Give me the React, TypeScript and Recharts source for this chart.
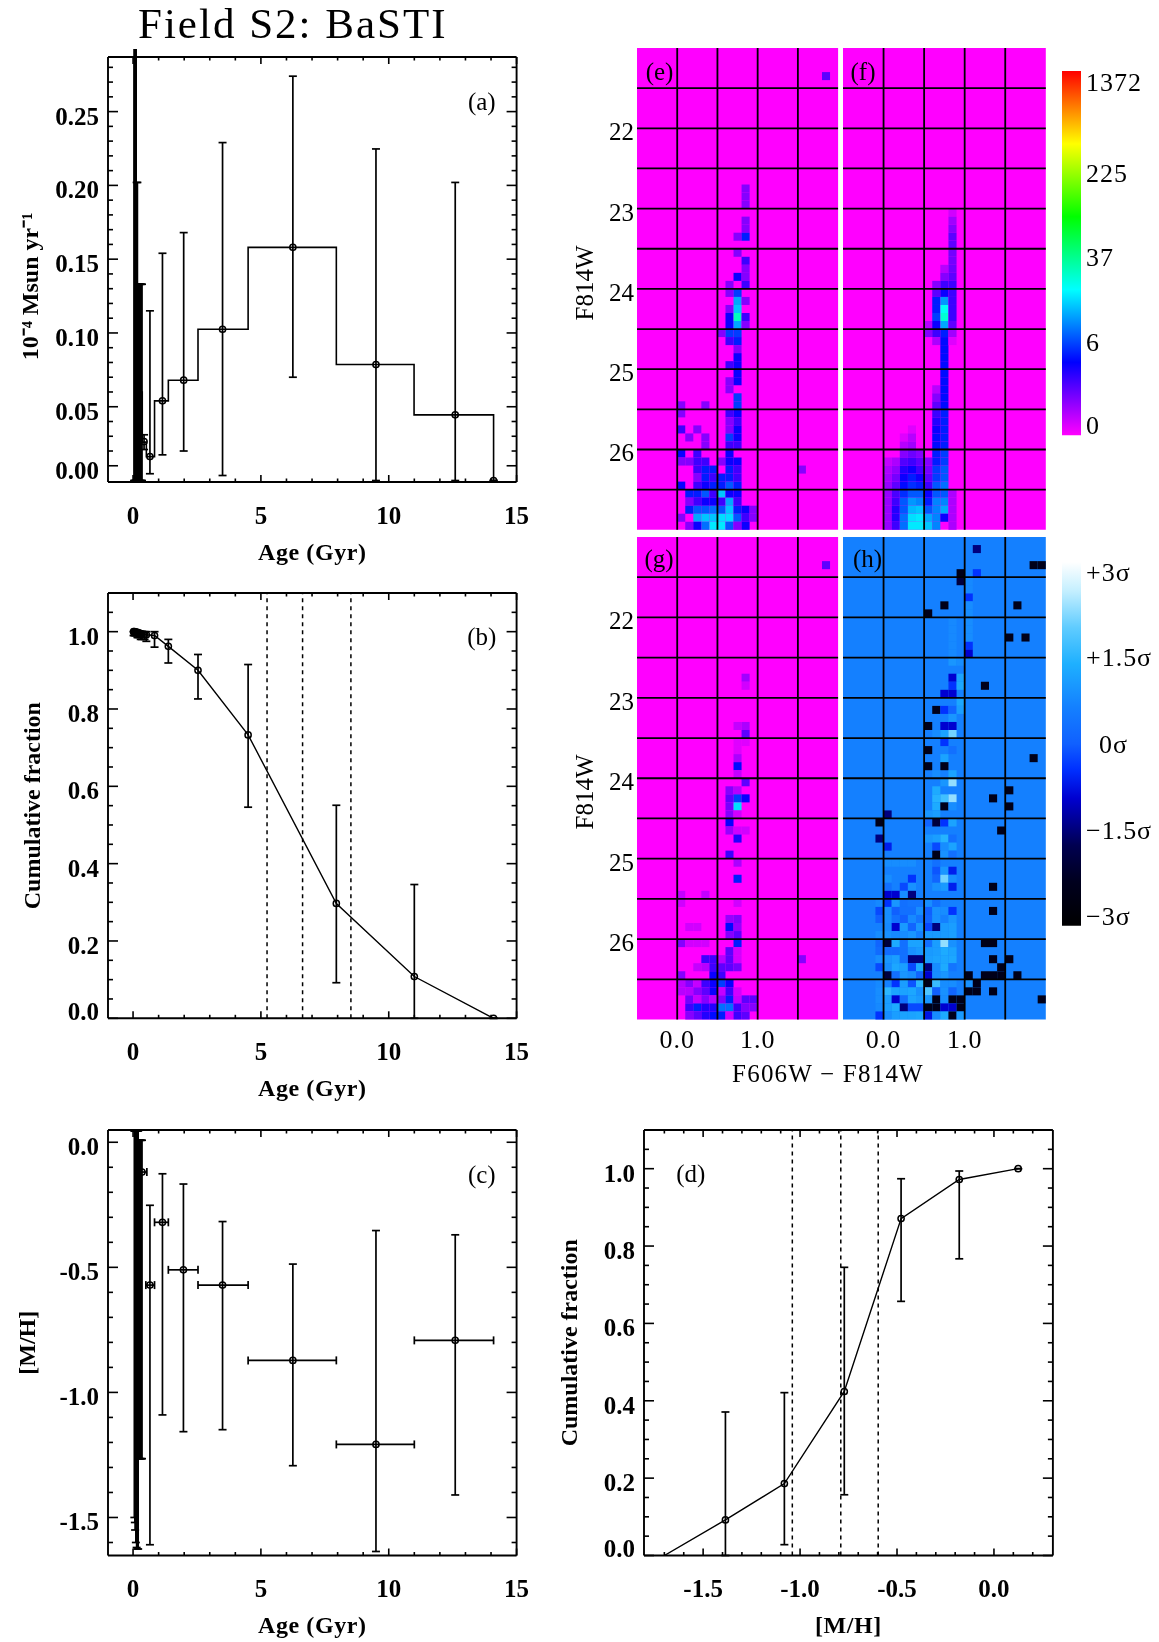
import React from "react";
import {
  ComposedChart,
  Line,
  Scatter,
  ErrorBar,
  XAxis,
  YAxis,
  ReferenceArea,
  ReferenceLine,
} from "recharts";

const serif = '"Liberation Serif", serif';

// --- panel (a): star formation history
const stepAges = [0.05, 0.05, 0.12, 0.2, 0.36, 0.52, 0.84, 1.38, 2.54, 4.5, 7.95, 10.99, 14.1];
const stepRates = [0, 0.3, 0.1, 0.06, 0.026, 0.0162, 0.054, 0.068, 0.1025, 0.158, 0.0786, 0.0445, 0];
const sfhAges = [0.04, 0.07, 0.1, 0.12, 0.14, 0.17, 0.2, 0.23, 0.26, 0.29, 0.32, 0.35, 0.43, 0.66, 1.15, 1.98, 3.5, 6.25, 9.5, 12.6, 14.1];
const sfhRates = [0.12, 0.11, 0.1, 0.1, 0.09, 0.09, 0.07, 0.05, 0.06, 0.04, 0.03, 0.03, 0.0264, 0.0162, 0.054, 0.068, 0.1025, 0.158, 0.0786, 0.0445, 0];
const sfhLow = [0, 0, 0, 0, 0, 0, 0, 0, 0, 0, 0, 0, 0.021, 0.0046, 0.0174, 0.02, 0.0034, 0.07, 0, 0, 0];
const sfhHigh = [0.35, 0.35, 0.35, 0.35, 0.202, 0.202, 0.133, 0.133, 0.133, 0.133, 0.133, 0.133, 0.031, 0.115, 0.154, 0.168, 0.229, 0.274, 0.2247, 0.202, 0];

// --- panel (b): cumulative age
const cumAges = [0.02, 0.05, 0.08, 0.11, 0.14, 0.17, 0.2, 0.25, 0.3, 0.35, 0.45, 0.52, 0.84, 1.38, 2.54, 4.5, 7.95, 11, 14.1];
const cumValues = [1, 1, 0.999, 0.999, 0.998, 0.998, 0.997, 0.996, 0.995, 0.994, 0.993, 0.992, 0.99, 0.962, 0.9, 0.733, 0.297, 0.108, 0];
const cumLow = [0.99, 0.99, 0.99, 0.99, 0.99, 0.985, 0.985, 0.985, 0.98, 0.98, 0.98, 0.975, 0.96, 0.919, 0.826, 0.546, 0.092, 0, 0];
const cumHigh = [1, 1, 1, 1, 1, 1, 1, 1, 1, 1, 1, 1, 1, 0.98, 0.941, 0.915, 0.551, 0.346, 0];
const cumAgeQuartiles = [5.24, 6.63, 8.52];

// --- panel (c): age-metallicity relation
const amrAges = [0.05, 0.07, 0.08, 0.11, 0.14, 0.17, 0.2, 0.23, 0.26, 0.29, 0.32, 0.35, 0.66, 1.15, 1.97, 3.5, 6.25, 9.5, 12.6];
const amrMetal = [-0.55, -0.56, -0.53, -0.6, -0.4, -0.5, -0.45, -0.4, -0.3, -0.25, -0.2, -0.119, -0.571, -0.32, -0.51, -0.571, -0.872, -1.208, -0.792];
const amrLow = [-1.5, -1.52, -1.55, -1.6, -1.62, -1.626, -1.626, -1.265, -1.265, -1.265, -1.265, -1.265, -1.609, -1.09, -1.157, -1.149, -1.293, -1.636, -1.41];
const amrHigh = [0.045, 0.045, 0.045, 0.045, 0.045, 0.045, 0.045, 0.008, 0.008, 0.008, 0.008, 0.008, -0.252, -0.126, -0.167, -0.317, -0.487, -0.353, -0.37];
const amrAgeLow = [0.05, 0.07, 0.08, 0.11, 0.14, 0.17, 0.2, 0.23, 0.26, 0.29, 0.32, 0.1, 0.5, 0.84, 1.38, 2.54, 4.5, 7.95, 11];
const amrAgeHigh = [0.05, 0.07, 0.08, 0.11, 0.14, 0.17, 0.2, 0.23, 0.26, 0.29, 0.32, 0.54, 0.84, 1.38, 2.54, 4.5, 7.95, 11, 14.1];

// --- panel (d): cumulative metallicity
const mdfMetal = [-1.7, -1.385, -1.081, -0.772, -0.479, -0.179, 0.125];
const mdfValues = [0, 0.092, 0.186, 0.424, 0.871, 0.972, 1];
const mdfLow = [0, 0, 0.028, 0.157, 0.657, 0.767, 1];
const mdfHigh = [0, 0.371, 0.421, 0.745, 0.974, 0.994, 1];
const mdfQuartiles = [-1.04, -0.79, -0.597];

// young bins pile up into a solid block, no marker shows in it
const youngBins = 12;

// --- tick marks
const ageTicks = [0, 1, 2, 3, 4, 5, 6, 7, 8, 9, 10, 11, 12, 13, 14, 15];
const ageLabels: Record<number, string> = { 0: "0", 5: "5", 10: "10", 15: "15" };
const sfrTicks = [0.01, 0.02, 0.03, 0.04, 0.05, 0.06, 0.07, 0.08, 0.09, 0.1, 0.11, 0.12, 0.13, 0.14, 0.15, 0.16, 0.17, 0.18, 0.19, 0.2, 0.21, 0.22, 0.23, 0.24, 0.25, 0.26, 0.27, 0.28];
const sfrLabels: Record<number, string> = { 0.01: "0.00", 0.05: "0.05", 0.1: "0.10", 0.15: "0.15", 0.2: "0.20", 0.25: "0.25" };
const cumTicks = [0, 0.05, 0.1, 0.15, 0.2, 0.25, 0.3, 0.35, 0.4, 0.45, 0.5, 0.55, 0.6, 0.65, 0.7, 0.75, 0.8, 0.85, 0.9, 0.95, 1, 1.05];
const cumLabels: Record<number, string> = { 0: "0.0", 0.2: "0.2", 0.4: "0.4", 0.6: "0.6", 0.8: "0.8", 1: "1.0" };
const metalTicks = [0, -0.1, -0.2, -0.3, -0.4, -0.5, -0.6, -0.7, -0.8, -0.9, -1, -1.1, -1.2, -1.3, -1.4, -1.5, -1.6];
const metalLabels: Record<number, string> = { 0: "0.0", [-0.5]: "-0.5", [-1]: "-1.0", [-1.5]: "-1.5" };
const mdfXTicks = [-1.7, -1.6, -1.5, -1.4, -1.3, -1.2, -1.1, -1, -0.9, -0.8, -0.7, -0.6, -0.5, -0.4, -0.3, -0.2, -0.1, 0, 0.1, 0.2];
const mdfXLabels: Record<number, string> = { [-1.5]: "-1.5", [-1]: "-1.0", [-0.5]: "-0.5", 0: "0.0" };

// --- Hess diagrams: [colour bin, magnitude bin, value], bins are 0.1 mag from (-0.5, 21)
const colorStart = -0.5;
const magStart = 21;
const binSize = 0.1;
const colorGrid = [0, 0.5, 1, 1.5];
const magGrid = [21.5, 22, 22.5, 23, 23.5, 24, 24.5, 25, 25.5, 26, 26.5];
const magTicks = [22, 23, 24, 25, 26];
const colorLabels: Record<number, string> = { 0: "0.0", 1: "1.0" };

const cellsE = [
  [23, 3, 1.5],
  [5, 44, 1], [5, 45, 1], [5, 47, 2], [5, 50, 3], [5, 51, 1], [5, 54, 3], [5, 58, 1],
  [6, 48, 1], [6, 51, 1], [6, 55, 4], [6, 56, 1], [6, 57, 4], [6, 59, 1],
  [7, 47, 1], [7, 50, 2], [7, 51, 2], [7, 52, 2], [7, 53, 1], [7, 54, 2], [7, 55, 4], [7, 56, 2], [7, 57, 6], [7, 58, 10], [7, 59, 3],
  [8, 44, 1], [8, 48, 1], [8, 49, 1], [8, 51, 2], [8, 52, 4], [8, 53, 4], [8, 54, 3], [8, 55, 6], [8, 56, 3], [8, 57, 6], [8, 58, 12], [8, 59, 7],
  [9, 52, 4], [9, 53, 2], [9, 54, 4], [9, 55, 2], [9, 56, 3], [9, 57, 7], [9, 58, 12], [9, 59, 15],
  [10, 35, 1], [10, 51, 1], [10, 53, 4], [10, 54, 4], [10, 55, 12], [10, 56, 2], [10, 57, 6], [10, 58, 14], [10, 59, 15],
  [11, 29, 1], [11, 30, 1], [11, 32, 1], [11, 33, 3], [11, 34, 3], [11, 35, 5], [11, 36, 2], [11, 39, 2], [11, 41, 1], [11, 42, 1], [11, 45, 2], [11, 46, 1], [11, 47, 1], [11, 48, 5], [11, 49, 2], [11, 50, 3], [11, 51, 3], [11, 52, 4], [11, 53, 4], [11, 54, 6], [11, 55, 3], [11, 56, 10], [11, 57, 12], [11, 58, 14], [11, 59, 6],
  [12, 23, 1], [12, 25, 1], [12, 28, 3], [12, 30, 5], [12, 31, 10], [12, 32, 12], [12, 33, 25], [12, 34, 10], [12, 35, 5], [12, 36, 4], [12, 37, 1], [12, 38, 3], [12, 39, 3], [12, 40, 3], [12, 41, 3], [12, 43, 5], [12, 44, 5], [12, 45, 3], [12, 46, 2], [12, 47, 3], [12, 48, 3], [12, 49, 2], [12, 51, 3], [12, 52, 2], [12, 53, 2], [12, 54, 4], [12, 55, 3], [12, 56, 2], [12, 57, 4], [12, 58, 6], [12, 59, 1],
  [13, 17, 1], [13, 18, 1], [13, 19, 1], [13, 21, 1], [13, 22, 1], [13, 23, 4], [13, 26, 2], [13, 27, 1], [13, 28, 1], [13, 29, 2], [13, 31, 1], [13, 33, 2], [13, 34, 1], [13, 57, 3], [13, 58, 2], [13, 59, 3],
  [14, 57, 1], [14, 58, 1],
  [20, 52, 1],
];

// model panel: [colour bin, first magnitude bin, values going faintwards]
const columnsF: [number, number, number[]][] = [
  [5, 51, [0.4, 0.6, 0.7, 0.8, 0.8, 0.8, 0.8, 0.8, 0.8]],
  [6, 51, [0.6, 0.9, 1.2, 1.5, 1.8, 2, 2.5, 2.5, 2]],
  [7, 48, [0.2, 0.5, 1, 1.7, 2.5, 3, 3.5, 4.5, 6, 6, 7, 7]],
  [8, 47, [0.2, 0.5, 0.7, 1.3, 2, 3, 4, 4.5, 6, 9, 11, 14, 15]],
  [9, 50, [1, 1.5, 2, 3, 4, 6, 8, 12, 15, 15]],
  [10, 34, [0.5, 1]],
  [10, 51, [1, 1.2, 1.5, 2, 3, 4, 6, 10, 12]],
  [11, 29, [1, 1.5, 4, 4, 5, 3, 2, 0.6]],
  [11, 42, [0.5, 1, 1.5, 2, 2.5, 3, 3.5, 3.5, 4, 4, 5, 5, 6, 6, 8, 8, 8, 8]],
  [12, 27, [0.5, 1, 2, 3, 9, 18, 22, 10, 4, 3.5, 3.5, 3.5, 3.5, 3.5, 3.5, 3.5, 3.5, 3.5, 4, 4, 4, 4, 4, 5, 5, 6, 6, 7, 6, 8, 10, 3]],
  [13, 20, [0.3, 0.7, 1, 1.5, 1.5, 1.2, 1.2, 1.3, 1.5, 2, 2, 2, 2, 2, 1.5, 0.7, 0.2]],
  [13, 55, [0.6, 0.6, 0.6, 0.6, 0.6]],
];

const cellsG = [
  [23, 3, 1.5], [13, 17, 0.7], [13, 18, 0.3], [12, 23, 0.4], [13, 23, 0.6], [13, 24, 1.5], [12, 25, 0.2], [13, 25, 0.2], [12, 26, 0.2], [12, 27, 0.6], [12, 28, 3.5], [12, 29, 0.4], [13, 30, 1.5],
  [11, 31, 1], [12, 31, 0.5], [11, 32, 1.5], [12, 32, 5], [13, 32, 3], [11, 33, 1.2], [12, 33, 14], [11, 34, 1], [12, 34, 0.3], [11, 35, 3], [11, 36, 0.8], [12, 36, 0.3], [13, 36, 0.3], [12, 37, 2.5], [11, 39, 2], [12, 40, 0.6], [12, 42, 4],
  [5, 44, 0.4], [8, 44, 0.4], [5, 45, 0.3], [12, 45, 0.3], [11, 47, 0.8], [12, 47, 1], [6, 48, 0.3], [7, 48, 0.3], [11, 48, 3.5], [12, 48, 0.8], [11, 49, 1], [12, 49, 1.5],
  [5, 50, 1], [6, 50, 0.3], [7, 50, 0.3], [8, 50, 0.3], [12, 50, 4], [11, 51, 1.5], [12, 51, 0.3],
  [8, 52, 2], [9, 52, 2], [10, 52, 0.5], [11, 52, 1.5], [12, 52, 0.3], [20, 52, 1],
  [7, 53, 0.4], [8, 53, 0.5], [9, 53, 2], [10, 53, 1.5], [11, 53, 1.5], [12, 53, 1.2],
  [5, 54, 1], [9, 54, 3], [10, 54, 2],
  [5, 55, 0.5], [6, 55, 1], [7, 55, 0.4], [8, 55, 2], [9, 55, 3], [10, 55, 5], [11, 55, 3],
  [5, 56, 0.5], [6, 56, 0.5], [7, 56, 1], [8, 56, 1.5], [9, 56, 3], [10, 56, 0.4], [11, 56, 2], [12, 56, 0.3],
  [6, 57, 1.2], [7, 57, 0.4], [8, 57, 1], [9, 57, 0.5], [10, 57, 1], [11, 57, 4], [12, 57, 0.4], [13, 57, 1.5], [14, 57, 1.5],
  [6, 58, 2], [7, 58, 4], [8, 58, 2.5], [9, 58, 2.5], [10, 58, 7], [11, 58, 7], [12, 58, 2], [13, 58, 1], [14, 58, 1],
  [6, 59, 1], [7, 59, 1.5], [8, 59, 2.5], [9, 59, 3.5], [10, 59, 4], [11, 59, 0.3], [12, 59, 2], [13, 59, 1.5],
];

// residuals, measured from the panel's background level
const cellsH = [
  [16, 1, -2], [23, 3, -3], [24, 3, -3], [16, 4, -1], [14, 4, -3], [14, 5, -2.5], [15, 7, -1], [12, 8, -3], [21, 8, -3], [10, 9, -3],
  [20, 12, -3], [22, 12, -3], [15, 13, -1], [15, 14, -1.5], [15, 5, 0.2], [15, 6, 0.2], [15, 8, 0.3], [15, 9, 0.3], [15, 10, 0.3], [15, 11, 0.3], [15, 12, 0.3],
  [13, 10, 0.2], [13, 11, 0.2], [13, 12, 0.2], [13, 13, 0.2], [13, 14, 0.2],
  [13, 15, 0.5], [14, 15, 0.3], [13, 17, -1.5], [14, 17, 0.8], [17, 18, -3], [13, 18, -1], [14, 18, 0.9], [12, 19, -1.5], [13, 19, -1.5], [14, 20, 0.9],
  [11, 21, -3], [12, 21, -1], [13, 21, -0.5], [14, 21, 0.7], [13, 22, 0.5], [10, 23, -3], [12, 23, -1.5], [13, 23, -1.5], [11, 24, 0.3], [12, 24, 0.8], [13, 24, 2.2],
  [12, 25, -1], [10, 26, -3], [13, 26, -0.3], [12, 27, 0.8], [23, 27, -3], [10, 28, -3], [12, 28, -3], [11, 29, 0.3], [13, 29, 0.8],
  [12, 30, 0.5], [13, 30, 2.5], [20, 31, -3], [11, 31, 1], [11, 32, 1.2], [12, 32, 1.6], [13, 32, 2.5], [18, 32, -3], [11, 33, 1], [12, 33, -3], [13, 33, 0.3], [20, 33, -3],
  [5, 34, -2], [10, 34, 0.5], [11, 34, 0.7], [4, 35, -3], [10, 35, -0.5], [11, 35, -2.5], [12, 35, -1], [13, 35, 0.8], [19, 36, -3], [4, 37, -2], [10, 37, 0.5], [11, 37, 0.7], [12, 37, 1.2], [13, 37, -0.3],
  [5, 38, -1.2], [11, 38, -0.8], [12, 38, 0.3], [13, 38, 0.8], [11, 39, -3], [12, 39, 0.4], [13, 39, -0.3],
  [5, 40, 0.3], [6, 40, 0.3], [7, 40, 0.3], [8, 40, 0.3], [11, 40, -0.3], [11, 41, -0.7], [12, 41, 0.5], [13, 41, -1.2],
  [5, 42, 0.3], [8, 42, -1], [11, 42, -0.5], [12, 42, 2.2], [13, 42, 0.3],
  [5, 43, -0.3], [7, 43, -0.8], [8, 43, 0.4], [11, 43, 0.4], [12, 43, 0.6], [13, 43, -1.2], [18, 43, -3],
  [5, 44, -1.5], [6, 44, -1.5], [7, 44, 0.3], [8, 44, -2],
  [4, 45, 0.2], [5, 45, -1], [6, 45, 0.5], [7, 45, -0.3], [8, 45, -0.2], [9, 45, -0.2], [10, 45, 0.3], [11, 45, -0.3],
  [4, 46, -0.8], [5, 46, 0.3], [6, 46, -0.6], [7, 46, -0.3], [8, 46, -0.3], [9, 46, 0.3], [10, 46, -0.6], [11, 46, 0.4], [12, 46, 0.3], [13, 46, -1], [18, 46, -3],
  [4, 47, -0.6], [5, 47, 0.3], [6, 47, -0.3], [7, 47, -0.6], [8, 47, 0.2], [9, 47, -0.2], [10, 47, -0.5], [11, 47, 0.4], [13, 47, 0.5],
  [5, 48, 0.2], [6, 48, -1.5], [7, 48, 0.6], [8, 48, -0.5], [9, 48, 0.5], [10, 48, -0.8], [11, 48, -2], [12, 48, 0.6], [13, 48, 0.7],
  [4, 49, 0.3], [5, 49, 0.4], [6, 49, 0.2], [7, 49, 0.3], [8, 49, 0.5], [10, 49, 0.6], [11, 49, 0.6], [12, 49, 0.6], [13, 49, 0.7],
  [4, 50, -0.5], [5, 50, -2.5], [6, 50, 1], [7, 50, -0.3], [8, 50, 0.8], [9, 50, 0.8], [10, 50, -0.3], [11, 50, 0.7], [12, 50, 2.5], [13, 50, 0.4], [17, 50, -3], [18, 50, -3],
  [4, 51, -0.4], [5, 51, -0.4], [6, 51, -0.4], [7, 51, -0.3], [8, 51, 0.4], [9, 51, 0.6], [10, 51, 0.6], [11, 51, 0.7], [12, 51, 1], [13, 51, 0.8],
  [4, 52, 0.3], [5, 52, 0.5], [6, 52, 0.7], [7, 52, -0.3], [8, 52, -2], [9, 52, -2], [10, 52, 0.7], [11, 52, 0.8], [12, 52, 0.9], [13, 52, 0.9], [18, 52, -3], [20, 52, -3],
  [4, 53, -0.8], [5, 53, 0.3], [6, 53, 0.9], [7, 53, 0.7], [8, 53, -0.8], [9, 53, 1], [10, 53, -2], [11, 53, 0.3], [12, 53, 1], [13, 53, -0.2], [19, 53, -3],
  [5, 54, -2.5], [6, 54, -0.3], [7, 54, 0.5], [8, 54, 0.3], [9, 54, -0.5], [10, 54, -1.5], [11, 54, 0.3], [12, 54, 0.5], [15, 54, -3], [17, 54, -3], [18, 54, -3], [19, 54, -3], [21, 54, -3],
  [4, 55, 0.2], [6, 55, -1], [7, 55, 0.7], [8, 55, -0.7], [9, 55, 1.3], [10, 55, -3], [11, 55, 1.5], [12, 55, 0.3], [13, 55, 0.3], [15, 55, 0.4], [16, 55, -3],
  [4, 56, 0.3], [5, 56, 1.3], [6, 56, 0.8], [7, 56, 0.8], [8, 56, 0.9], [9, 56, 0.4], [10, 56, 1.8], [11, 56, -0.6], [12, 56, 0.4], [13, 56, -0.5], [15, 56, -3], [16, 56, -3], [18, 56, -3],
  [4, 57, 0.3], [5, 57, 0.7], [6, 57, -1.5], [7, 57, -0.3], [8, 57, 0.8], [9, 57, 0.6], [10, 57, 0.5], [11, 57, -3], [12, 57, 0.3], [13, 57, -3], [14, 57, -3], [24, 57, -3],
  [4, 58, 0.2], [5, 58, 0.7], [6, 58, 1], [7, 58, -2], [8, 58, -0.8], [9, 58, -0.8], [10, 58, -3], [11, 58, -3], [12, 58, -1.5], [13, 58, -1.5], [14, 58, -3],
  [4, 59, -1], [5, 59, 0.3], [6, 59, 0.7], [7, 59, 0.8], [8, 59, 0.8], [9, 59, 0.9], [10, 59, -1.3], [11, 59, 0.3], [12, 59, 1], [13, 59, -3], [14, 59, 0.6],
];

// colour bars
const countBarTicks = [0.028, 0.256, 0.489, 0.721, 0.969];
const countBarLabels = ["0", "6", "37", "225", "1372"];
const sigmaBarTicks = [0.027, 0.263, 0.5, 0.739, 0.972];
const sigmaBarLabels = ["\u22123\u03c3", "\u22121.5\u03c3", "0\u03c3", "+1.5\u03c3", "+3\u03c3"];

const maxCount = 1372;
function countColor(count: number) {
  const t = Math.log(1 + count) / Math.log(1 + maxCount);
  return `hsl(${300 * (1 - t)}, 100%, 50%)`;
}

const sigmaStops: [number, string][] = [
  [0, "#000000"],
  [0.12, "#00001e"],
  [0.22, "#000050"],
  [0.35, "#0000d0"],
  [0.43, "#0030ff"],
  [0.5, "#1060ff"],
  [0.6, "#1480ff"],
  [0.72, "#1eb0ff"],
  [0.82, "#60ccff"],
  [0.92, "#c4efff"],
  [1, "#ffffff"],
];
function hexToRgb(hex: string) {
  return [1, 3, 5].map((i) => parseInt(hex.slice(i, i + 2), 16));
}
function sigmaColor(offset: number) {
  const s = 0.6 + (offset > 0 ? offset * 0.65 : offset);
  const t = Math.min(1, Math.max(0, (s + 3) / 6));
  for (let i = 1; i < sigmaStops.length; i++) {
    if (t <= sigmaStops[i][0]) {
      const [t0, c0] = sigmaStops[i - 1];
      const [t1, c1] = sigmaStops[i];
      const f = (t - t0) / (t1 - t0);
      const a = hexToRgb(c0);
      const b = hexToRgb(c1);
      return `rgb(${a.map((v, k) => Math.round(v + (b[k] - v) * f)).join(",")})`;
    }
  }
  return "#ffffff";
}

const padL = 100;
const padR = 50;
const padT = 8;
const padB = 90;

function XTick({ x, y, payload, labels, inward, font }: any) {
  const label = labels[payload.value];
  const len = label !== undefined ? 7 : 3.5;
  return (
    <g>
      <line x1={x} x2={x} y1={y} y2={y + inward * len} stroke="#000" strokeWidth={1.6} />
      {inward < 0 && label !== undefined && (
        <text x={x} y={y + 42} textAnchor="middle" style={font}>{label}</text>
      )}
    </g>
  );
}

function YTick({ x, y, payload, labels, inward, font, floor }: any) {
  const label = labels[payload.value];
  const len = label !== undefined ? 10 : 5;
  // the label on the bottom edge sits above the frame corner
  const dy = payload.value === floor ? 2 : 13;
  return (
    <g>
      <line x1={x} x2={x + inward * len} y1={y} y2={y} stroke="#000" strokeWidth={1.6} />
      {inward > 0 && label !== undefined && (
        <text x={x - 9} y={y + dy} textAnchor="end" style={font}>{label}</text>
      )}
    </g>
  );
}

const boldFont = { fontFamily: serif, fontWeight: 700, fontSize: 25, fill: "#000" };
const plainFont = { fontFamily: serif, fontSize: 26, fill: "#000", letterSpacing: 1 };
const titleFont = { fontFamily: serif, fontWeight: 700, fontSize: 24, fill: "#000" };
const tagFont = { fontFamily: serif, fontSize: 25, fill: "#000" };

function LinePanel({ box, xDomain, yDomain, xTicks, yTicks, xLabels, yLabels, xTitle, yTitle, yTitleX, yTitleShift = 0, tag, tagAt, children }: any) {
  const [l, t, w, h] = box;
  const axis = { stroke: "#000", strokeWidth: 1.9 };
  return (
    <div style={{ position: "absolute", left: l - padL, top: t - padT }}>
      <ComposedChart width={w + padL + padR} height={h + padT + padB} margin={{ top: padT - 1, right: padR - 1, bottom: padB - 1, left: padL - 1 }}>
        <XAxis dataKey="x" type="number" domain={xDomain} ticks={xTicks} interval={0} height={1} allowDataOverflow tickLine={false} tickSize={0} tickMargin={0} axisLine={axis}
          tick={(p: any) => <XTick {...p} labels={xLabels} inward={-1} font={boldFont} />} />
        <XAxis xAxisId="top" orientation="top" dataKey="x" type="number" domain={xDomain} ticks={xTicks} interval={0} height={1} allowDataOverflow tickLine={false} tickSize={0} tickMargin={0} axisLine={axis}
          tick={(p: any) => <XTick {...p} labels={xLabels} inward={1} font={boldFont} />} />
        <YAxis dataKey="y" type="number" domain={yDomain} ticks={yTicks} interval={0} width={1} allowDataOverflow tickLine={false} tickSize={0} tickMargin={0} axisLine={axis}
          tick={(p: any) => <YTick {...p} labels={yLabels} inward={1} font={boldFont} floor={yDomain[0]} />} />
        <YAxis yAxisId="right" orientation="right" dataKey="y" type="number" domain={yDomain} ticks={yTicks} interval={0} width={1} allowDataOverflow tickLine={false} tickSize={0} tickMargin={0} axisLine={axis}
          tick={(p: any) => <YTick {...p} labels={yLabels} inward={-1} font={boldFont} />} />
        {children}
        <text x={padL + w / 2} y={padT + h + 78} textAnchor="middle" style={{ ...titleFont, letterSpacing: 0.6 }}>{xTitle}</text>
        <text transform={`translate(${yTitleX - (l - padL)},${padT + h / 2 + yTitleShift}) rotate(-90)`} textAnchor="middle" style={titleFont}>{yTitle}</text>
        <text x={tagAt[0] - (l - padL)} y={tagAt[1] - (t - padT) + 8} textAnchor="middle" style={tagFont}>{tag}</text>
      </ComposedChart>
    </div>
  );
}

function openDot(p: any) {
  return <circle cx={p.cx} cy={p.cy} r={3.1} fill="none" stroke="#000" strokeWidth={1.5} />;
}

function noDot() {
  return <g />;
}

function rows(xs: number[], ys: number[], low: number[], high: number[]) {
  return xs.map((x, i) => ({ x, y: ys[i], ye: [ys[i] - low[i], high[i] - ys[i]] }));
}

function points(xs: number[], ys: number[]) {
  return xs.map((x, i) => ({ x, y: ys[i] }));
}

function HessPanel({ box, cells, colorOf, background, showMag, showColor }: any) {
  const [l, t, w, h] = box;
  return (
    <div style={{ position: "absolute", left: l - padL, top: t - padT }}>
      <ComposedChart width={w + padL + 10} height={h + padT + padB} margin={{ top: padT, right: 10, bottom: padB - 1, left: padL - 1 }}>
        <XAxis dataKey="x" type="number" domain={[-0.5, 2]} ticks={showColor ? [0, 1] : []} interval={0} height={1} allowDataOverflow tickLine={false} tickSize={0} tickMargin={0} axisLine={false}
          tick={(p: any) => <text x={p.x} y={p.y + 29} textAnchor="middle" style={plainFont}>{colorLabels[p.payload.value]}</text>} />
        <YAxis dataKey="y" type="number" reversed domain={[21, 27]} ticks={showMag ? magTicks : []} interval={0} width={1} allowDataOverflow tickLine={false} tickSize={0} tickMargin={0} axisLine={false}
          tick={(p: any) => <text x={p.x - 3} y={p.y + 12} textAnchor="end" style={{ ...plainFont, letterSpacing: 0, fontSize: 25 }}>{p.payload.value}</text>} />
        <ReferenceArea x1={-0.5} x2={2} y1={21} y2={27} fill={background} fillOpacity={1} stroke="none" />
        {cells.map(([col, row, value]: number[]) => (
          <ReferenceArea
            key={`${col}-${row}`}
            x1={colorStart + col * binSize}
            x2={colorStart + (col + 1) * binSize}
            y1={magStart + row * binSize}
            y2={magStart + (row + 1) * binSize}
            ifOverflow="visible"
            fill={colorOf(value)}
            fillOpacity={1}
            stroke="none"
          />
        ))}
        {colorGrid.map((c) => <ReferenceLine key={c} x={c} stroke="#000" strokeWidth={1.8} />)}
        {magGrid.map((m) => <ReferenceLine key={m} y={m} stroke="#000" strokeWidth={1.8} />)}
      </ComposedChart>
    </div>
  );
}

function ColorBar({ box, id, stops, ticks, labels }: any) {
  const [l, t, w, h] = box;
  return (
    <div style={{ position: "absolute", left: l, top: t - 8 }}>
      <ComposedChart width={w + 78} height={h + 17} margin={{ top: 8, right: 77, bottom: 8, left: 0 }}>
        <defs>
          <linearGradient id={id} x1="0" y1="1" x2="0" y2="0">
            {stops.map(([o, c]: [number, string]) => <stop key={o} offset={o} stopColor={c} />)}
          </linearGradient>
        </defs>
        <XAxis dataKey="x" type="number" domain={[0, 1]} ticks={[]} height={1} tickLine={false} axisLine={false} allowDataOverflow />
        <YAxis dataKey="y" orientation="right" type="number" domain={[0, 1]} ticks={ticks} interval={0} width={1} allowDataOverflow tickLine={false} tickSize={0} tickMargin={0} axisLine={false}
          tick={(p: any) => {
            const label = labels[ticks.indexOf(p.payload.value)];
            return <text x={p.x + (label === "0\u03c3" ? 18 : 5)} y={p.y + 9} style={plainFont}>{label}</text>;
          }} />
        <ReferenceArea x1={0} x2={1} y1={0} y2={1} fill={`url(#${id})`} fillOpacity={1} stroke="none" />
      </ComposedChart>
    </div>
  );
}

function Tag({ at, children }: any) {
  return (
    <div style={{ position: "absolute", left: at[0], top: at[1], transform: "translate(-50%,-50%)", fontFamily: serif, fontSize: 25, whiteSpace: "nowrap" }}>{children}</div>
  );
}

const rainbowStops: [number, string][] = [
  [0, "#ff00ff"], [0.2, "#0000ff"], [0.4, "#00ffff"], [0.6, "#00ff00"], [0.8, "#ffff00"], [1, "#ff0000"],
];

const cellsF = columnsF.flatMap(([col, first, values]) => values.map((v, i) => [col, first + i, v]));

const sfhRows = rows(sfhAges, sfhRates, sfhLow, sfhHigh);
const amrRows = amrAges.map((x, i) => ({
  x,
  y: amrMetal[i],
  ye: [amrMetal[i] - amrLow[i], amrHigh[i] - amrMetal[i]],
  xe: [x - amrAgeLow[i], amrAgeHigh[i] - x],
}));

export default function App() {
  const bar = { width: 4, strokeWidth: 1.7, stroke: "#000", isAnimationActive: false };
  return (
    <div style={{ position: "absolute", left: 0, top: 0, width: 1159, height: 1642, background: "#fff", overflow: "hidden", filter: "blur(0.5px)" }}>
      <div style={{ position: "absolute", left: 138, top: 1, fontFamily: serif, fontSize: 43, lineHeight: "45px", letterSpacing: 2, whiteSpace: "nowrap" }}>
        Field S2: BaSTI
      </div>

      <LinePanel box={[108.2, 57.1, 408.6, 425]} xDomain={[-0.98, 15]} yDomain={[-0.001, 0.287]} xTicks={ageTicks} yTicks={sfrTicks} xLabels={ageLabels} yLabels={sfrLabels}
        xTitle="Age (Gyr)" yTitle={"10\u207b\u2074 Msun yr\u207b\u00b9"} yTitleX={38} yTitleShift={17} tag="(a)" tagAt={[482, 102]}>
        <Line data={points(stepAges, stepRates)} dataKey="y" type="stepAfter" stroke="#000" strokeWidth={1.6} dot={false} isAnimationActive={false} />
        <Scatter data={sfhRows.slice(0, youngBins)} dataKey="y" shape={noDot} isAnimationActive={false}>
          <ErrorBar dataKey="ye" direction="y" {...bar} />
        </Scatter>
        <Scatter data={sfhRows.slice(youngBins)} dataKey="y" shape={openDot} isAnimationActive={false}>
          <ErrorBar dataKey="ye" direction="y" {...bar} />
        </Scatter>
      </LinePanel>

      <LinePanel box={[108.2, 593.4, 408.6, 425.3]} xDomain={[-0.98, 15]} yDomain={[0, 1.1]} xTicks={ageTicks} yTicks={cumTicks} xLabels={ageLabels} yLabels={cumLabels}
        xTitle="Age (Gyr)" yTitle="Cumulative fraction" yTitleX={40} tag="(b)" tagAt={[482, 637.5]}>
        {cumAgeQuartiles.map((q) => <ReferenceLine key={q} x={q} stroke="#000" strokeWidth={1.5} strokeDasharray="4 4" />)}
        <Line data={points(cumAges, cumValues)} dataKey="y" type="linear" stroke="#000" strokeWidth={1.4} dot={false} isAnimationActive={false} />
        <Scatter data={rows(cumAges, cumValues, cumLow, cumHigh)} dataKey="y" shape={openDot} isAnimationActive={false}>
          <ErrorBar dataKey="ye" direction="y" {...bar} />
        </Scatter>
      </LinePanel>

      <LinePanel box={[108.2, 1129.7, 408.6, 425.5]} xDomain={[-0.98, 15]} yDomain={[-1.652, 0.049]} xTicks={ageTicks} yTicks={metalTicks} xLabels={ageLabels} yLabels={metalLabels}
        xTitle="Age (Gyr)" yTitle="[M/H]" yTitleX={35} tag="(c)" tagAt={[482, 1174.5]}>
        <Scatter data={amrRows.slice(0, youngBins - 1)} dataKey="y" shape={noDot} isAnimationActive={false}>
          <ErrorBar dataKey="ye" direction="y" {...bar} />
        </Scatter>
        <Scatter data={amrRows.slice(youngBins - 1)} dataKey="y" shape={openDot} isAnimationActive={false}>
          <ErrorBar dataKey="ye" direction="y" {...bar} />
          <ErrorBar dataKey="xe" direction="x" {...bar} />
        </Scatter>
      </LinePanel>

      <LinePanel box={[644.3, 1129.7, 408.9, 425.5]} xDomain={[-1.805, 0.304]} yDomain={[0, 1.1]} xTicks={mdfXTicks} yTicks={cumTicks} xLabels={mdfXLabels} yLabels={cumLabels}
        xTitle="[M/H]" yTitle="Cumulative fraction" yTitleX={577} tag="(d)" tagAt={[691, 1174]}>
        {mdfQuartiles.map((q) => <ReferenceLine key={q} x={q} stroke="#000" strokeWidth={1.5} strokeDasharray="4 4" />)}
        <Line data={points(mdfMetal, mdfValues)} dataKey="y" type="linear" stroke="#000" strokeWidth={1.4} dot={false} isAnimationActive={false} />
        <Scatter data={rows(mdfMetal, mdfValues, mdfLow, mdfHigh).slice(1)} dataKey="y" shape={openDot} isAnimationActive={false}>
          <ErrorBar dataKey="ye" direction="y" {...bar} />
        </Scatter>
      </LinePanel>

      <HessPanel box={[637.2, 47.6, 201.1, 481.8]} cells={cellsE} colorOf={countColor} background="#ff00ff" showMag />
      <HessPanel box={[842.8, 47.6, 202.8, 481.8]} cells={cellsF} colorOf={countColor} background="#ff00ff" />
      <HessPanel box={[637.2, 536.5, 201.1, 482.5]} cells={cellsG} colorOf={countColor} background="#ff00ff" showMag showColor />
      <HessPanel box={[842.8, 536.5, 202.8, 482.5]} cells={cellsH} colorOf={sigmaColor} background={sigmaColor(0)} showColor />

      <Tag at={[659.5, 71.5]}>(e)</Tag>
      <Tag at={[863, 71.5]}>(f)</Tag>
      <Tag at={[659, 558.6]}>(g)</Tag>
      <Tag at={[867.5, 558.6]}>(h)</Tag>

      <ColorBar box={[1062, 71.1, 19, 364.2]} id="countBar" stops={rainbowStops} ticks={countBarTicks} labels={countBarLabels} />
      <ColorBar box={[1062, 562, 19, 363.7]} id="sigmaBar" stops={sigmaStops} ticks={sigmaBarTicks} labels={sigmaBarLabels} />

      <div style={{ position: "absolute", left: 726, top: 1060, width: 204, textAlign: "center", fontFamily: serif, fontSize: 25, letterSpacing: 1.2, whiteSpace: "nowrap" }}>
        F606W {"\u2212"} F814W
      </div>
      <div style={{ position: "absolute", left: 585, top: 283, transform: "translate(-50%,-50%) rotate(-90deg)", fontFamily: serif, fontSize: 25, whiteSpace: "nowrap" }}>F814W</div>
      <div style={{ position: "absolute", left: 585, top: 792, transform: "translate(-50%,-50%) rotate(-90deg)", fontFamily: serif, fontSize: 25, whiteSpace: "nowrap" }}>F814W</div>
    </div>
  );
}
